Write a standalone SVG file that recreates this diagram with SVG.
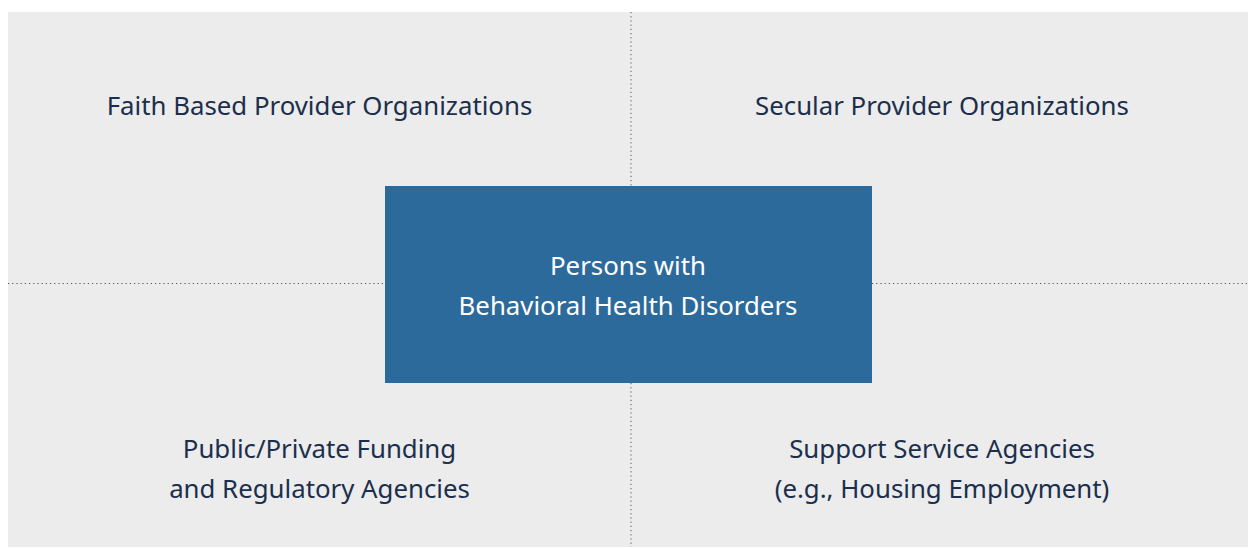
<svg xmlns="http://www.w3.org/2000/svg" width="1248" height="548" viewBox="0 0 1248 548">
<style>
.lbl{font-family:"Noto Sans","Open Sans",sans-serif;font-size:25.8px;fill:#1b2f4d;text-anchor:middle}
.ctr{font-family:"Noto Sans","Open Sans",sans-serif;font-size:25.8px;fill:#ffffff;text-anchor:middle}
.div{stroke:#555;stroke-width:1;stroke-dasharray:1.2 3;fill:none}
</style>
<rect x="0" y="0" width="1248" height="548" fill="#ffffff"/>
<rect x="8" y="12" width="1240" height="535" fill="#ebeceb"/>
<g id="connectors">
<line class="div" x1="631" y1="12" x2="631" y2="186"/>
<line class="div" x1="631" y1="383" x2="631" y2="547"/>
<line class="div" x1="8" y1="283.5" x2="385" y2="283.5"/>
<line class="div" x1="872" y1="283.5" x2="1248" y2="283.5"/>
</g>
<g id="faith"><text class="lbl" x="319.5" y="115">Faith Based Provider Organizations</text></g>
<g id="secular"><text class="lbl" x="942" y="115">Secular Provider Organizations</text></g>
<g id="funding"><text class="lbl" x="319.5" y="458">Public/Private Funding</text><text class="lbl" x="319.5" y="498">and Regulatory Agencies</text></g>
<g id="support"><text class="lbl" x="942" y="458">Support Service Agencies</text><text class="lbl" x="942" y="498">(e.g., Housing Employment)</text></g>
<g id="persons"><rect x="385" y="186" width="487" height="197" fill="#2d6a9c"/><text class="ctr" x="628" y="275">Persons with</text><text class="ctr" x="628" y="315">Behavioral Health Disorders</text></g>
</svg>
